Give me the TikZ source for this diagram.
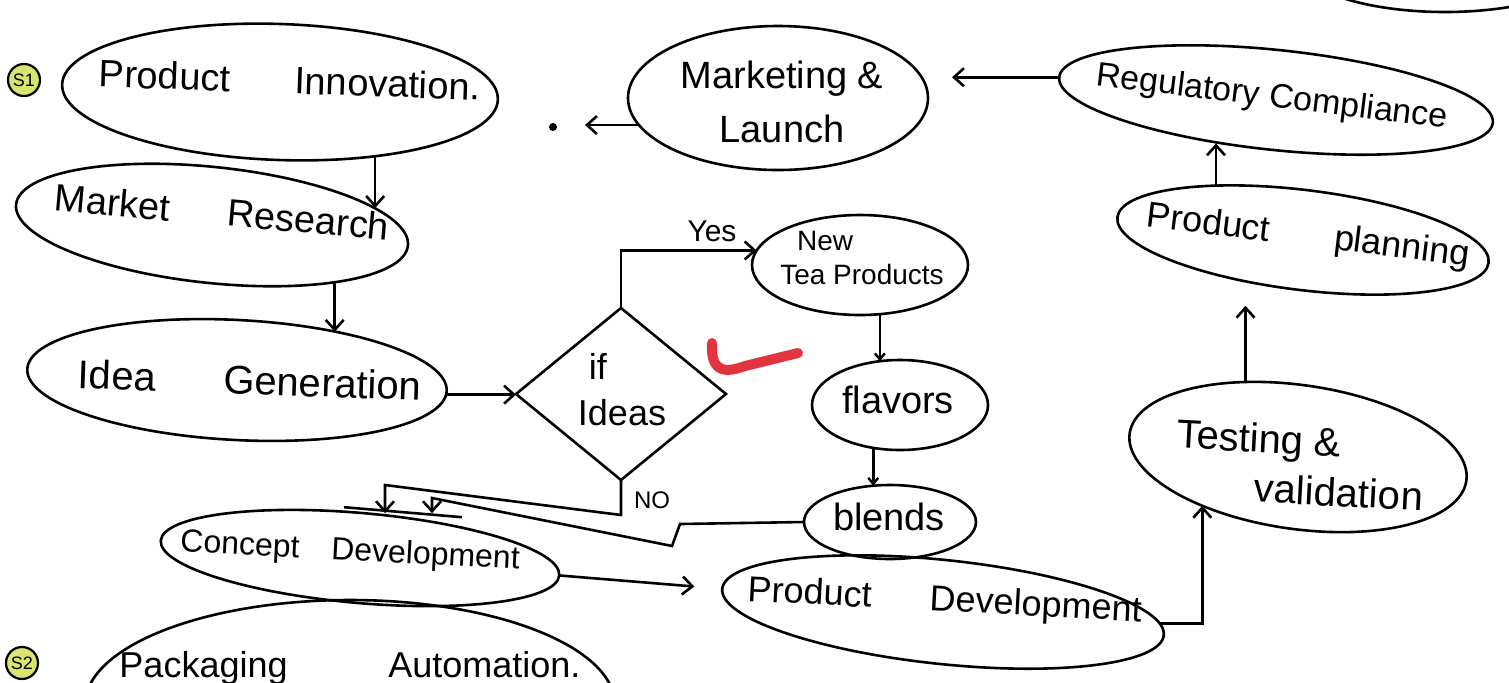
\documentclass[tikz,border=0pt]{standalone}
\usepackage{fontspec}
\setmainfont{Liberation Sans}
\usetikzlibrary{shapes.geometric,arrows.meta,calc}
\definecolor{sgreen}{RGB}{216,230,112}
\definecolor{checkred}{RGB}{226,52,62}
\begin{document}
\begin{tikzpicture}[x=0.5pt,y=-0.5pt,
  blob/.style={draw, ellipse, line width=1.3pt, inner sep=0pt, outer sep=0pt},
  txt/.style={inner sep=0pt, align=center},
  fbig/.style={font=\fontsize{19}{23}\selectfont},
  fmid/.style={font=\fontsize{18}{22}\selectfont},
  arr/.style={line width=1.3pt, -{Straight Barb[length=5pt,width=9pt,line width=1.3pt]}},
  arrs/.style={line width=1.3pt, -{Straight Barb[length=3pt,width=5pt,line width=1.2pt]}},
  ln/.style={line width=1.3pt},
  snum/.style={draw, circle, fill=sgreen, line width=1.1pt, minimum size=16pt, inner sep=0pt, font=\fontsize{9}{10}\selectfont}
]
\useasboundingbox (0,0) rectangle (1509,682);
\clip (0,0) rectangle (1509,682);

% shapes
\node[blob, rotate=-2, minimum width=218pt, minimum height=68pt] (pi) at (280,92) {};
\node[blob, rotate=-6, minimum width=197pt, minimum height=58pt] (mr) at (212,225) {};
\node[blob, rotate=-3, minimum width=210pt, minimum height=60pt] (ig) at (237,380) {};
\node[draw, diamond, line width=1.3pt, inner sep=0pt, outer sep=0pt, minimum width=105pt, minimum height=86pt] (dec) at (621,394) {};
\node[blob, minimum width=108pt, minimum height=50pt] (ntp) at (860,265) {};
\node[blob, minimum width=88pt, minimum height=45pt] (fl) at (900,405) {};
\node[blob, minimum width=86pt, minimum height=37pt] (bl) at (890,522) {};
\node[blob, rotate=-5, minimum width=200pt, minimum height=45pt] (cd) at (360,558) {};
\node[blob, rotate=-6, minimum width=222pt, minimum height=52pt] (pd) at (943,612) {};
\node[blob, rotate=-8, minimum width=170pt, minimum height=72pt] (tv) at (1298,457) {};
\node[blob, rotate=-7, minimum width=187pt, minimum height=50pt] (pp) at (1303,240) {};
\node[blob, rotate=-6, minimum width=218pt, minimum height=50pt] (rc) at (1276,100) {};
\node[blob, minimum width=150pt, minimum height=72pt] (ml) at (778,98) {};
\node[blob, minimum width=265pt, minimum height=105pt] (pa) at (350,705) {};
\node[blob, minimum width=150pt, minimum height=52pt] (tr) at (1445,-40) {};
\node[snum] (s1) at (24,80) {S1};
\node[snum] (s2) at (22,663) {S2};
\node[fill, circle, inner sep=0pt, minimum size=4pt] (dot) at (553,127) {};

% texts
\node[txt, fbig, rotate=-2] (pit) at (290,80) {Product\hspace{1.7em}Innovation.};
\node[txt, fbig, rotate=-5] (mrt) at (222,212) {Market\hspace{1.5em}Research};
\node[txt, font=\fontsize{20}{24}\selectfont, rotate=-2] (igt) at (250,380) {Idea\hspace{1.7em}Generation};
\node[txt, align=left, font=\fontsize{18}{23}\selectfont] (dect) at (622,390) {\hspace*{0.3em}if\\Ideas};
\node[txt, font=\fontsize{14}{17}\selectfont, align=left] (ntpt) at (862,258) {\hspace*{0.6em}New\\Tea Products};
\node[txt, fbig] (flt) at (898,400) {flavors};
\node[txt, fbig] (blt) at (889,517) {blends};
\node[txt, font=\fontsize{15}{18}\selectfont] (yes) at (712,231) {Yes};
\node[txt, font=\fontsize{12}{14}\selectfont] (no) at (652,500) {NO};
\node[txt, font=\fontsize{16}{20}\selectfont, rotate=-3] (cdt) at (350,552) {Concept\hspace{1em}Development};
\node[txt, fmid, rotate=-3] (pdt) at (945,602) {Product\hspace{1.6em}Development};
\node[txt, font=\fontsize{20}{25}\selectfont, align=left, rotate=-3] (tvt) at (1300,465) {Testing \&\\\hspace*{2em}validation};
\node[txt, fmid, rotate=-7] (ppt) at (1308,237) {Product\hspace{1.8em}planning};
\node[txt, font=\fontsize{17}{21}\selectfont, rotate=-7] (rct) at (1272,98) {Regulatory Compliance};
\node[txt, font=\fontsize{19}{27}\selectfont] (mlt) at (782,102) {Marketing \&\\Launch};
\node[txt, fmid] (pat) at (350,668) {Packaging\hspace{2.8em}Automation.};

% connectors
\draw[arr] (pi.-32) -- (pi.-32 |- mr.12);
\draw[arr] (mr.-19) -- (mr.-19 |- ig.29);
\draw[arr] (ig.-1) -- (ig.-1 -| dec.west);
\draw[arr] (dec.north) |- (ntp.172);
\draw[arrs] (ntp.-68) -- (ntp.-68 |- fl.115);
\draw[arrs] (fl.-122) -- (fl.-122 |- bl.115);
\coordinate (nok) at ($(dec.south)+(-236,5)$);
\draw[arr] (dec.south) -- ++(0,35) -- (nok) -- (nok |- cd.north);
\coordinate (blk) at ($(bl.west)+(-372,-24)$);
\draw[arr] (bl.west) -- ++(-124,2) -- ++(-8,22) -- (blk) -- (blk |- cd.north);
\draw[ln] ($(cd.north)+(-20,-6)$) -- ($(cd.north)+(98,4)$);
\draw[arr, shorten >=14pt] (cd.east) -- (pd.west);
\draw[arr] (pd.3) -| (tv.215);
\draw[arr, shorten >=12pt] (tv.133) -- (tv.133 |- pp.224);
\draw[arr] (pp.155) -- (pp.155 |- rc.225);
\draw[arr, shorten >=12pt] (rc.west) -- (rc.west -| ml.east);
\draw[arr, shorten >=16pt] (ml.191) -- (ml.191 -| dot.center);

% red check mark
\draw[checkred, line width=5pt, line cap=round, line join=round]
  (712,343) .. controls (711,366) and (718,376) .. (745,366) -- (798,353);
\end{tikzpicture}
\end{document}
